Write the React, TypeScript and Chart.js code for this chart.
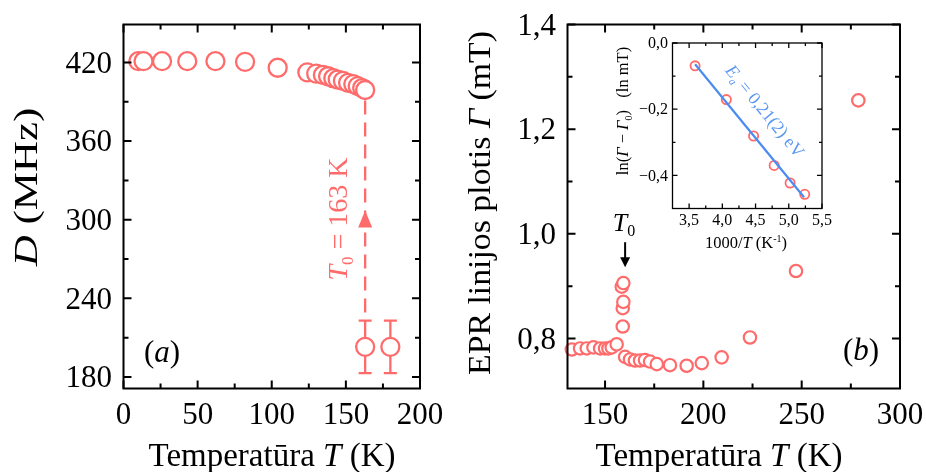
import React, { useEffect, useRef } from 'react';
import { Chart, registerables } from 'chart.js';

Chart.register(...registerables);

const RED = '#ff6b6b';
const BLUE = '#4a8cf0';
const FONT = '"Liberation Serif", "Times New Roman", "DejaVu Serif", serif';
const W = 926;
const H = 472;

// (a) zero-field splitting D versus temperature
const tempA = [10, 13.5, 26, 43, 62, 82, 104, 124, 130, 134.5, 138, 141.5, 144.5, 148, 151.5, 155, 158, 161, 163];
const splitD = [421, 421, 421, 421, 421, 420.5, 416, 412.5, 411.5, 410.5, 409.5, 408, 407, 406, 404.5, 403.5, 402, 400.5, 399];
const tempAErr = [163, 180];
const splitDErr = [203, 203];
const errD = [20, 20];
const transitionT = 163;

// (b) EPR line width versus temperature
const tempB = [133.1, 137.3, 140.7, 144.1, 147.5, 150, 151.7, 153.4, 155.9, 158.5, 159, 159, 159.3, 159.3, 160.2, 162.7, 165.2, 167.8, 170.3, 172.9, 176.3, 183, 191.5, 199.2, 209.3, 223.7, 247.1, 278.8];
const widthB = [0.779, 0.781, 0.781, 0.783, 0.781, 0.781, 0.781, 0.783, 0.789, 0.899, 0.823, 0.858, 0.870, 0.906, 0.765, 0.760, 0.758, 0.758, 0.759, 0.756, 0.751, 0.749, 0.748, 0.753, 0.764, 0.802, 0.929, 1.255];

// inset: Arrhenius plot of ln(Γ − Γ0) against 1000/T
const invT = [3.59, 4.06, 4.47, 4.78, 5.02, 5.24];
const lnWidth = [-0.069, -0.171, -0.281, -0.370, -0.423, -0.457];
const fitX = [3.59, 5.23];
const fitY = [-0.064, -0.466];

// axis ticks
const aXMajor = [0, 50, 100, 150, 200];
const aXMinor = [25, 75, 125, 175];
const aYMajor = [180, 240, 300, 360, 420];
const aYMinor = [210, 270, 330, 390];
const bXMajor = [150, 200, 250, 300];
const bXMinor = [175, 225, 275];
const bYMajor = [0.8, 1.0, 1.2, 1.4];
const bYMinor = [0.9, 1.1, 1.3];
const inXMajor = [3.5, 4.0, 4.5, 5.0, 5.5];
const inXMinor = [3.75, 4.25, 4.75, 5.25];
const inYMajor = [0, -0.2, -0.4];
const inYMinor = [-0.1, -0.3];

const fmt = (v: number, d: number) => v.toFixed(d).replace('.', ',').replace('-', '\u2212');
const aXLabels = aXMajor.map((v) => fmt(v, 0));
const aYLabels = aYMajor.map((v) => fmt(v, 0));
const bXLabels = bXMajor.map((v) => fmt(v, 0));
const bYLabels = bYMajor.map((v) => fmt(v, 1));
const inXLabels = inXMajor.map((v) => fmt(v, 1));
const inYLabels = inYMajor.map((v) => fmt(Math.abs(v) < 1e-9 ? 0 : v, 1));

type Seg = { t: string; it?: boolean; sub?: boolean; sup?: boolean };

// Draws mixed upright/italic text centred on (cx, cy); `stretch` widens it along its own direction.
function richText(
  ctx: CanvasRenderingContext2D,
  segs: Seg[],
  cx: number,
  cy: number,
  size: number,
  color: string,
  angle = 0,
  stretch = 1
) {
  ctx.save();
  ctx.translate(cx, cy);
  ctx.rotate(angle);
  ctx.scale(stretch, 1);
  ctx.fillStyle = color;
  ctx.textBaseline = 'alphabetic';
  ctx.textAlign = 'left';
  const fontFor = (s: Seg) => `${s.it ? 'italic ' : ''}${s.sub || s.sup ? Math.round(size * 0.62) : size}px ${FONT}`;
  let total = 0;
  const widths = segs.map((s) => {
    ctx.font = fontFor(s);
    const w = ctx.measureText(s.t).width;
    total += w;
    return w;
  });
  let x = -total / 2;
  const base = size * 0.33;
  segs.forEach((s, i) => {
    ctx.font = fontFor(s);
    const dy = s.sub ? size * 0.22 : s.sup ? -size * 0.4 : 0;
    ctx.fillText(s.t, x, base + dy);
    x += widths[i];
  });
  ctx.restore();
}

interface FrameSpec {
  xMajor: number[];
  xMinor: number[];
  yMajor: number[];
  yMinor: number[];
  xLabels: string[];
  yLabels: string[];
  majorLen: number;
  minorLen: number;
  lineWidth: number;
  fontSize: number;
  yLabelRight: number;
  xLabelY: number;
  before?: (chart: Chart) => void;
  after?: (chart: Chart) => void;
}

// Closed box with inward ticks on all four sides, plus tick labels on left and bottom.
function framePlugin(spec: FrameSpec) {
  return {
    id: 'boxFrame',
    beforeDatasetsDraw(chart: Chart) {
      if (spec.before) spec.before(chart);
    },
    afterDatasetsDraw(chart: Chart) {
      const { ctx, chartArea: a } = chart;
      const xs = chart.scales.x;
      const ys = chart.scales.y;
      ctx.save();
      ctx.strokeStyle = '#000';
      ctx.lineWidth = spec.lineWidth;
      ctx.setLineDash([]);
      ctx.strokeRect(a.left, a.top, a.right - a.left, a.bottom - a.top);
      ctx.beginPath();
      const xt = (vals: number[], len: number) => {
        vals.forEach((v) => {
          const p = xs.getPixelForValue(v);
          ctx.moveTo(p, a.bottom);
          ctx.lineTo(p, a.bottom - len);
          ctx.moveTo(p, a.top);
          ctx.lineTo(p, a.top + len);
        });
      };
      const yt = (vals: number[], len: number) => {
        vals.forEach((v) => {
          const p = ys.getPixelForValue(v);
          ctx.moveTo(a.left, p);
          ctx.lineTo(a.left + len, p);
          ctx.moveTo(a.right, p);
          ctx.lineTo(a.right - len, p);
        });
      };
      xt(spec.xMajor, spec.majorLen);
      xt(spec.xMinor, spec.minorLen);
      yt(spec.yMajor, spec.majorLen);
      yt(spec.yMinor, spec.minorLen);
      ctx.stroke();

      ctx.fillStyle = '#000';
      ctx.font = `${spec.fontSize}px ${FONT}`;
      ctx.textBaseline = 'alphabetic';
      ctx.textAlign = 'center';
      spec.xMajor.forEach((v, i) => {
        ctx.fillText(spec.xLabels[i], xs.getPixelForValue(v), spec.xLabelY + spec.fontSize * 0.33);
      });
      ctx.textAlign = 'right';
      spec.yMajor.forEach((v, i) => {
        ctx.fillText(spec.yLabels[i], spec.yLabelRight, ys.getPixelForValue(v) + spec.fontSize * 0.33);
      });
      ctx.restore();
      if (spec.after) spec.after(chart);
    },
  };
}

const tempTitle: Seg[] = [{ t: 'Temperatūra ' }, { t: 'T', it: true }, { t: ' (K)' }];

function pad(left: number, top: number, right: number, bottom: number) {
  return { left, top, right: W - right, bottom: H - bottom };
}

function baseOptions(padding: any, xMin: number, xMax: number, yMin: number, yMax: number): any {
  return {
    responsive: false,
    animation: false,
    events: [],
    layout: { padding },
    plugins: { legend: { display: false }, tooltip: { enabled: false }, title: { display: false } },
    scales: {
      x: { type: 'linear', min: xMin, max: xMax, display: false },
      y: { type: 'linear', min: yMin, max: yMax, display: false },
    },
  };
}

function makePanelA(canvas: HTMLCanvasElement) {
  const spec: FrameSpec = {
    xMajor: aXMajor, xMinor: aXMinor, yMajor: aYMajor, yMinor: aYMinor,
    xLabels: aXLabels, yLabels: aYLabels,
    majorLen: 8, minorLen: 5, lineWidth: 2, fontSize: 31,
    yLabelRight: 112, xLabelY: 414,
    before: (chart) => {
      const { ctx } = chart;
      const xs = chart.scales.x;
      const ys = chart.scales.y;
      ctx.save();
      ctx.strokeStyle = RED;
      ctx.lineWidth = 2.3;
      ctx.beginPath();
      tempAErr.forEach((t, i) => {
        const px = xs.getPixelForValue(t);
        const top = ys.getPixelForValue(splitDErr[i] + errD[i]);
        const bot = ys.getPixelForValue(splitDErr[i] - errD[i]);
        ctx.moveTo(px, top);
        ctx.lineTo(px, bot);
        ctx.moveTo(px - 6.5, top);
        ctx.lineTo(px + 6.5, top);
        ctx.moveTo(px - 6.5, bot);
        ctx.lineTo(px + 6.5, bot);
      });
      ctx.stroke();
      // dashed guide at the transition temperature
      const gx = xs.getPixelForValue(transitionT);
      ctx.setLineDash([14, 8]);
      ctx.beginPath();
      ctx.moveTo(gx, ys.getPixelForValue(391));
      ctx.lineTo(gx, ys.getPixelForValue(splitDErr[0] + errD[0]));
      ctx.stroke();
      ctx.setLineDash([]);
      const tip = ys.getPixelForValue(307);
      const base = ys.getPixelForValue(294);
      ctx.fillStyle = RED;
      ctx.beginPath();
      ctx.moveTo(gx, tip);
      ctx.lineTo(gx - 7, base);
      ctx.lineTo(gx + 7, base);
      ctx.closePath();
      ctx.fill();
      ctx.restore();
    },
    after: (chart) => {
      const { ctx } = chart;
      richText(ctx, [{ t: 'T', it: true }, { t: '0', sub: true }, { t: ' = 163 K' }], 338, 219, 28, RED, -Math.PI / 2);
      richText(ctx, [{ t: '(' }, { t: 'a', it: true }, { t: ')' }], 162, 352, 31, '#000');
      richText(ctx, [{ t: 'D', it: true }, { t: ' (MHz)' }], 26, 187, 33, '#000', -Math.PI / 2, 1.3);
      richText(ctx, tempTitle, 272, 455, 33, '#000');
    },
  };
  return new Chart(canvas, {
    type: 'scatter',
    data: {
      datasets: [
        {
          data: tempA.map((t, i) => ({ x: t, y: splitD[i] })),
          pointRadius: 9,
          borderWidth: 2.3,
          borderColor: RED,
          backgroundColor: '#fff',
          clip: false,
        } as any,
        {
          data: tempAErr.map((t, i) => ({ x: t, y: splitDErr[i] })),
          pointRadius: 9,
          borderWidth: 2.3,
          borderColor: RED,
          backgroundColor: '#fff',
          clip: false,
        } as any,
      ],
    },
    options: baseOptions(pad(123.5, 24.5, 420, 388.5), 0, 200, 171.2, 449),
    plugins: [framePlugin(spec) as any],
  });
}

function makePanelB(canvas: HTMLCanvasElement) {
  const spec: FrameSpec = {
    xMajor: bXMajor, xMinor: bXMinor, yMajor: bYMajor, yMinor: bYMinor,
    xLabels: bXLabels, yLabels: bYLabels,
    majorLen: 8, minorLen: 5, lineWidth: 2, fontSize: 31,
    yLabelRight: 556, xLabelY: 414,
    after: (chart) => {
      const { ctx } = chart;
      const xs = chart.scales.x;
      const ys = chart.scales.y;
      const ax = xs.getPixelForValue(160.2);
      const y0 = ys.getPixelForValue(0.984);
      const y1 = ys.getPixelForValue(0.936);
      ctx.save();
      ctx.strokeStyle = '#000';
      ctx.fillStyle = '#000';
      ctx.lineWidth = 2;
      ctx.beginPath();
      ctx.moveTo(ax, y0);
      ctx.lineTo(ax, y1 - 8);
      ctx.stroke();
      ctx.beginPath();
      ctx.moveTo(ax, y1);
      ctx.lineTo(ax - 5, y1 - 10);
      ctx.lineTo(ax + 5, y1 - 10);
      ctx.closePath();
      ctx.fill();
      ctx.restore();
      richText(ctx, [{ t: 'T', it: true }, { t: '0', sub: true }], 624, 222, 26, '#000');
      richText(ctx, [{ t: '(' }, { t: 'b', it: true }, { t: ')' }], 861, 350, 31, '#000');
      richText(ctx, [{ t: 'EPR linijos plotis ' }, { t: 'Γ', it: true }, { t: ' (mT)' }], 480, 203, 31, '#000', -Math.PI / 2, 1.09);
      richText(ctx, tempTitle, 719, 455, 33, '#000');
    },
  };
  return new Chart(canvas, {
    type: 'scatter',
    data: {
      datasets: [
        {
          data: tempB.map((t, i) => ({ x: t, y: widthB[i] })),
          pointRadius: 6.2,
          borderWidth: 2.2,
          borderColor: RED,
          backgroundColor: '#fff',
          clip: false,
        } as any,
      ],
    },
    options: baseOptions(pad(567.5, 24.5, 900, 388.5), 130.9, 300, 0.7045, 1.4),
    plugins: [framePlugin(spec) as any],
  });
}

function makeInset(canvas: HTMLCanvasElement) {
  const spec: FrameSpec = {
    xMajor: inXMajor, xMinor: inXMinor, yMajor: inYMajor, yMinor: inYMinor,
    xLabels: inXLabels, yLabels: inYLabels,
    majorLen: 5, minorLen: 3, lineWidth: 1.3, fontSize: 16,
    yLabelRight: 668, xLabelY: 220,
    after: (chart) => {
      const { ctx } = chart;
      const xs = chart.scales.x;
      const ys = chart.scales.y;
      const ang = Math.atan2(
        ys.getPixelForValue(fitY[1]) - ys.getPixelForValue(fitY[0]),
        xs.getPixelForValue(fitX[1]) - xs.getPixelForValue(fitX[0])
      );
      richText(ctx, [{ t: 'E', it: true }, { t: 'a', it: true, sub: true }, { t: ' = 0,21(2) eV' }], 765, 111, 18, '#5b97f2', ang);
      richText(ctx, [{ t: 'ln(' }, { t: 'Γ', it: true }, { t: ' − ' }, { t: 'Γ', it: true }, { t: '0', sub: true }, { t: ')   (ln mT)' }], 623, 111, 16.5, '#000', -Math.PI / 2);
      richText(ctx, [{ t: '1000/' }, { t: 'T', it: true }, { t: ' (K' }, { t: '-1', sup: true }, { t: ')' }], 746, 243, 16.5, '#000');
    },
  };
  return new Chart(canvas, {
    type: 'scatter',
    data: {
      datasets: [
        {
          type: 'line',
          data: fitX.map((x, i) => ({ x, y: fitY[i] })),
          borderColor: BLUE,
          borderWidth: 2.2,
          pointRadius: 0,
          fill: false,
          clip: false,
        } as any,
        {
          data: invT.map((x, i) => ({ x, y: lnWidth[i] })),
          pointRadius: 4.6,
          borderWidth: 1.8,
          borderColor: RED,
          backgroundColor: 'rgba(0,0,0,0)',
          clip: false,
        } as any,
      ],
    },
    options: baseOptions(pad(672.5, 43, 822, 208.5), 3.25, 5.5, -0.5, 0),
    plugins: [framePlugin(spec) as any],
  });
}

export default function App() {
  const refA = useRef<HTMLCanvasElement>(null);
  const refB = useRef<HTMLCanvasElement>(null);
  const refC = useRef<HTMLCanvasElement>(null);

  useEffect(() => {
    const charts: Chart[] = [];
    if (refA.current) charts.push(makePanelA(refA.current));
    if (refB.current) charts.push(makePanelB(refB.current));
    if (refC.current) charts.push(makeInset(refC.current));
    return () => charts.forEach((c) => c.destroy());
  }, []);

  const cs: React.CSSProperties = { position: 'absolute', left: 0, top: 0, width: W, height: H };
  return (
    <div style={{ position: 'absolute', left: 0, top: 0, width: W, height: H, background: '#fff', overflow: 'hidden' }}>
      <canvas ref={refA} width={W} height={H} style={cs} />
      <canvas ref={refB} width={W} height={H} style={cs} />
      <canvas ref={refC} width={W} height={H} style={cs} />
    </div>
  );
}
